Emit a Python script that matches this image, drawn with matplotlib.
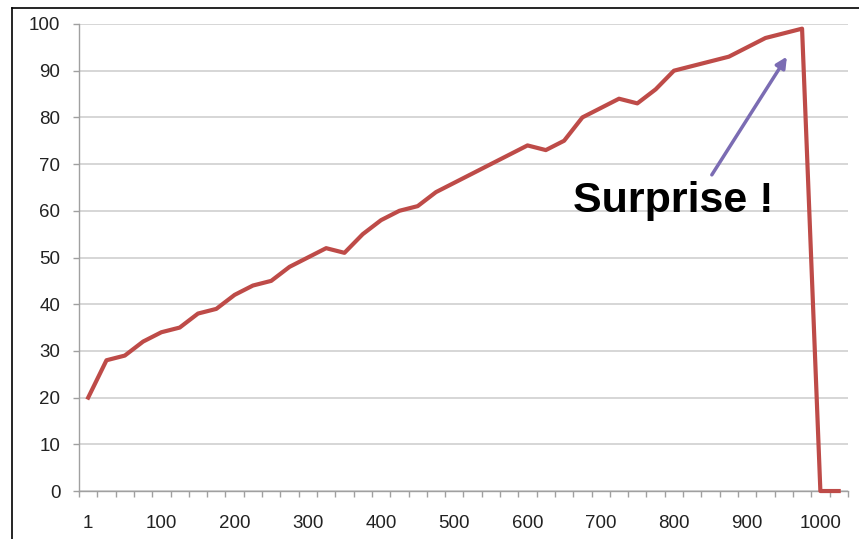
import numpy as np
import matplotlib
matplotlib.use('Agg')
import matplotlib.pyplot as plt
from matplotlib.lines import Line2D

# categories: 1, 25, 50, ... 1025
categories = [1] + list(range(25, 1050, 25))
values = [20, 28, 29, 32, 34, 35, 38, 39, 42, 44, 45, 48, 50, 52, 51, 55,
          58, 60, 61, 64, 66, 68, 70, 72, 74, 73, 75, 80, 82, 84, 83, 86,
          90, 91, 92, 93, 95, 97, 98, 99, 0, 0]
label_cats = [1, 100, 200, 300, 400, 500, 600, 700, 800, 900, 1000]
y_ticks = list(range(0, 101, 10))

plt.rcParams['font.family'] = ['Liberation Sans', 'DejaVu Sans']

fig = plt.figure(figsize=(8.59, 5.39), dpi=100)
ax = fig.add_axes([0.092, 0.089, 0.895, 0.8665])

idx = np.arange(len(categories))
ax.plot(idx, values, color='#be4b48', lw=3, solid_joinstyle='round', clip_on=False, zorder=3)

ax.set_xlim(-0.5, len(categories) - 0.5)
ax.set_ylim(0, 100)

# gridlines
ax.set_yticks(y_ticks)
ax.yaxis.grid(True, color='#d0d0d0', lw=1.2)
ax.set_axisbelow(True)

# x axis: labels at category centers, tick marks between categories
ax.set_xticks([categories.index(c) for c in label_cats])
ax.set_xticklabels([str(c) for c in label_cats])
ax.set_xticks(np.arange(len(categories) + 1) - 0.5, minor=True)
ax.tick_params(axis='x', which='major', length=0, pad=17, labelsize=13.5, colors='#222222')
ax.tick_params(axis='x', which='minor', length=4.5, width=1, color='#a0a0a0')
ax.tick_params(axis='y', length=4.5, width=1, color='#a0a0a0', pad=9, labelsize=13.5, labelcolor='#222222')

for s in ['top', 'right']:
    ax.spines[s].set_visible(False)
for s in ['left', 'bottom']:
    ax.spines[s].set_color('#a0a0a0')
    ax.spines[s].set_linewidth(1)

# annotation
ax.annotate('', xy=(38.17, 93), xytext=(34.07, 67.7),
            arrowprops=dict(arrowstyle='-|>', color='#7b6cb3', lw=2.5,
                            mutation_scale=16, shrinkA=0, shrinkB=0))
ax.text(31.97, 62, 'Surprise !', fontsize=31, fontweight='bold',
        ha='center', va='center', color='black')

# outer frame of the screenshot (top and left edges)
fig.add_artist(Line2D([12 / 859, 1], [1 - 8 / 539, 1 - 8 / 539], color='black', lw=1.2,
                      transform=fig.transFigure))
fig.add_artist(Line2D([12 / 859, 12 / 859], [0, 1 - 8 / 539], color='black', lw=1.2,
                      transform=fig.transFigure))

fig.savefig('out.png', dpi=100, facecolor='white')
